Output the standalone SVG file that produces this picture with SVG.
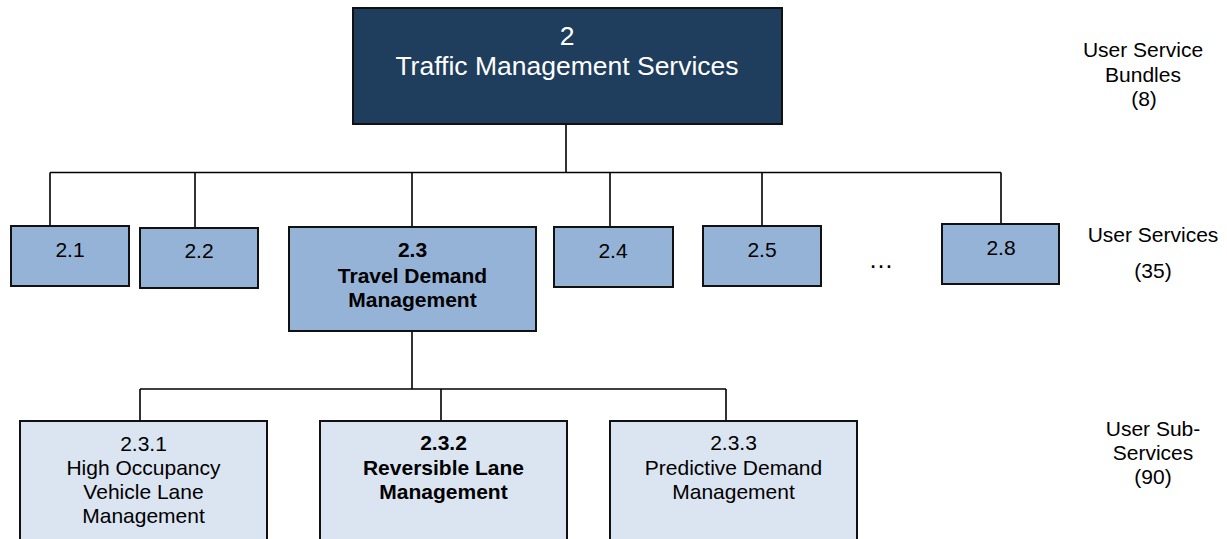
<svg xmlns="http://www.w3.org/2000/svg" width="1227" height="539" viewBox="0 0 1227 539">
<style>
text{font-family:"Liberation Sans",Arial,sans-serif;font-size:21px;fill:#000;text-anchor:middle}
.b{font-weight:bold}
.w{fill:#fff;font-size:26.5px}
.top{fill:#1F3D5C;stroke:#111;stroke-width:2}
.mid{fill:#95B3D7;stroke:#111;stroke-width:2}
.low{fill:#DBE5F1;stroke:#111;stroke-width:2}
.c{fill:none;stroke:#000;stroke-width:1.6}
</style>
<rect width="1227" height="539" fill="#fff"/>
<g id="connectors">
<path class="c" d="M566,124V172.5M50,172.5H1001M50,172.5V226M195,172.5V228M412,172.5V227M610,172.5V227M762,172.5V226M1001,172.5V224"/>
<path class="c" d="M412,331V389M140,389H726M140,389V421M441,389V421M726,389V421"/>
</g>
<g id="n2"><rect class="top" x="353" y="8" width="429" height="116"/>
<text class="w" x="567" y="45">2</text>
<text class="w" x="567" y="75">Traffic Management Services</text></g>
<g id="n2_1"><rect class="mid" x="11" y="226" width="118" height="60"/><text x="70" y="257">2.1</text></g>
<g id="n2_2"><rect class="mid" x="140" y="228" width="118" height="60"/><text x="199" y="258">2.2</text></g>
<g id="n2_3"><rect class="mid" x="289" y="227" width="247" height="104"/>
<text class="b" x="412.5" y="257">2.3</text>
<text class="b" x="412.5" y="283">Travel Demand</text>
<text class="b" x="412.5" y="307">Management</text></g>
<g id="n2_4"><rect class="mid" x="554" y="227" width="119" height="60"/><text x="613" y="258">2.4</text></g>
<g id="n2_5"><rect class="mid" x="703" y="226" width="118" height="60"/><text x="762" y="257">2.5</text></g>
<g id="ellipsis"><text x="881" y="268" style="font-size:25px">…</text></g>
<g id="n2_8"><rect class="mid" x="942" y="224" width="117" height="60"/><text x="1001" y="255">2.8</text></g>
<g id="n2_3_1"><rect class="low" x="20" y="421" width="247" height="130"/>
<text x="143.5" y="451">2.3.1</text>
<text x="143.5" y="475">High Occupancy</text>
<text x="143.5" y="499">Vehicle Lane</text>
<text x="143.5" y="523">Management</text></g>
<g id="n2_3_2"><rect class="low" x="320" y="421" width="247" height="130"/>
<text class="b" x="443.5" y="450">2.3.2</text>
<text class="b" x="443.5" y="475">Reversible Lane</text>
<text class="b" x="443.5" y="499">Management</text></g>
<g id="n2_3_3"><rect class="low" x="610" y="421" width="247" height="130"/>
<text x="733.5" y="450">2.3.3</text>
<text x="733.5" y="475">Predictive Demand</text>
<text x="733.5" y="499">Management</text></g>
<g id="labels">
<text x="1143" y="57">User Service</text>
<text x="1143" y="82">Bundles</text>
<text x="1144" y="106">(8)</text>
<text x="1153" y="242">User Services</text>
<text x="1153" y="278">(35)</text>
<text x="1153" y="436">User Sub-</text>
<text x="1153" y="460">Services</text>
<text x="1153" y="484">(90)</text>
</g>
</svg>
